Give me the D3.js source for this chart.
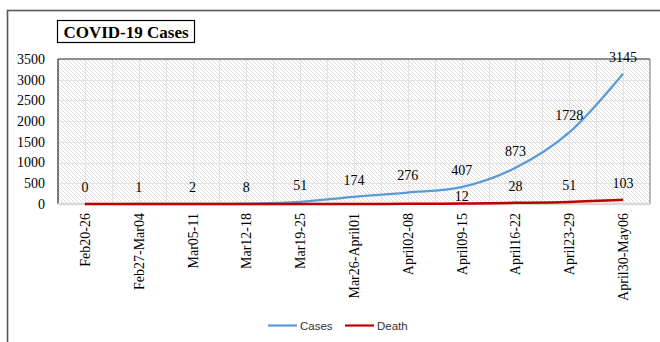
<!DOCTYPE html>
<html>
<head>
<meta charset="utf-8">
<script src="https://cdn.jsdelivr.net/npm/d3@7"></script>
<style>
  body { margin: 0; background: #fff; }
  svg { display: block; }
</style>
</head>
<body>
<svg id="chart" width="660" height="342"></svg>
<script>
// data
const weeks = ["Feb20-26", "Feb27-Mar04", "Mar05-11", "Mar12-18", "Mar19-25", "Mar26-April01",
               "April02-08", "April09-15", "April16-22", "April23-29", "April30-May06"];
const cases = [0, 1, 2, 8, 51, 174, 276, 407, 873, 1728, 3145];
const deaths = [0, 0, 0, 0, 0, 1, 4, 12, 28, 51, 103];
const deathLabelShown = [false, false, false, false, false, false, false, true, true, true, true];
const yTicks = [0, 500, 1000, 1500, 2000, 2500, 3000, 3500];

const svg = d3.select('#chart');
const serif = '"Liberation Serif", "Times New Roman", serif';
const sans = '"Liberation Sans", Arial, sans-serif';

const plotL = 58, plotT = 59, plotR = 650, plotB = 204;
const plotW = plotR - plotL, plotH = plotB - plotT;

const x = d3.scaleBand().domain(weeks).range([plotL, plotR]);
const y = d3.scaleLinear().domain([0, 3500]).range([plotB, plotT]);
const cx = d => x(d) + x.bandwidth() / 2;

// outer frame
svg.append('rect').attr('x', 7.5).attr('y', 10.5).attr('width', 700).attr('height', 400)
    .attr('fill', '#fff').attr('stroke', '#595959').attr('stroke-width', 1.6);

// hatch pattern
const defs = svg.append('defs');
const pat = defs.append('pattern').attr('id', 'hatch').attr('patternUnits', 'userSpaceOnUse')
    .attr('width', 4).attr('height', 4);
pat.append('rect').attr('width', 4).attr('height', 4).attr('fill', '#fff');
pat.append('path').attr('d', 'M-1,-1 L5,5 M-1,3 L1,5 M3,-1 L5,1')
    .attr('stroke', '#dcdcdc').attr('stroke-width', 1);

svg.append('rect').attr('x', plotL).attr('y', plotT).attr('width', plotW).attr('height', plotH)
    .attr('fill', 'url(#hatch)');

// gridlines: vertical every half band, horizontal at ticks
const grid = svg.append('g').attr('stroke', '#e3e3e3').attr('stroke-width', 1);
for (let i = 1; i < weeks.length * 2; i++) {
  const gx = Math.round(plotL + i * x.bandwidth() / 2) + 0.5;
  grid.append('line').attr('x1', gx).attr('x2', gx).attr('y1', plotT).attr('y2', plotB);
}
yTicks.slice(1, -1).forEach(t => {
  grid.append('line').attr('x1', plotL).attr('x2', plotR)
      .attr('y1', Math.round(y(t)) + 0.5).attr('y2', Math.round(y(t)) + 0.5);
});

// plot frame
svg.append('line').attr('x1', plotL).attr('x2', plotR).attr('y1', plotT).attr('y2', plotT)
    .attr('stroke', '#262626').attr('stroke-width', 1.2);
svg.append('line').attr('x1', plotL).attr('x2', plotL).attr('y1', plotT).attr('y2', plotB)
    .attr('stroke', '#262626').attr('stroke-width', 1.2);
svg.append('line').attr('x1', plotR).attr('x2', plotR).attr('y1', plotT).attr('y2', plotB)
    .attr('stroke', '#8c8c8c').attr('stroke-width', 1.2);
svg.append('line').attr('x1', plotL).attr('x2', plotR).attr('y1', plotB).attr('y2', plotB)
    .attr('stroke', '#d9d9d9').attr('stroke-width', 2.5);

// y axis labels
svg.append('g').selectAll('text').data(yTicks).enter().append('text')
    .attr('x', 45).attr('y', d => y(d)).attr('dy', '0.35em')
    .attr('text-anchor', 'end').attr('font-family', serif).attr('font-size', 14)
    .attr('fill', '#000').text(d => d);

// x axis labels (rotated)
svg.append('g').selectAll('text').data(weeks).enter().append('text')
    .attr('transform', d => `translate(${cx(d) + 5},213) rotate(-90)`)
    .attr('text-anchor', 'end').attr('font-family', serif).attr('font-size', 14)
    .attr('fill', '#000').text(d => d);

// lines
const line = d3.line().x((d, i) => cx(weeks[i])).y(d => y(d)).curve(d3.curveCardinal.tension(0));
svg.append('path').datum(cases).attr('d', line).attr('fill', 'none')
    .attr('stroke', '#5b9bd5').attr('stroke-width', 2.2);
svg.append('path').datum(deaths).attr('d', line).attr('fill', 'none')
    .attr('stroke', '#c00000').attr('stroke-width', 2.5);

// data labels
svg.append('g').selectAll('text').data(cases).enter().append('text')
    .attr('x', (d, i) => cx(weeks[i])).attr('y', d => y(d) - 17).attr('dy', '0.35em')
    .attr('text-anchor', 'middle').attr('font-family', serif).attr('font-size', 14)
    .attr('fill', '#000').text(d => d);
svg.append('g').selectAll('text').data(deaths.map((d, i) => [d, i]).filter(p => deathLabelShown[p[1]])).enter()
    .append('text')
    .attr('x', p => cx(weeks[p[1]])).attr('y', p => y(p[0]) - (p[0] < 20 ? 7 : 17)).attr('dy', '0.35em')
    .attr('text-anchor', 'middle').attr('font-family', serif).attr('font-size', 14)
    .attr('fill', '#000').text(p => p[0]);

// title box
svg.append('rect').attr('x', 57.5).attr('y', 20.5).attr('width', 137).attr('height', 22)
    .attr('fill', '#fff').attr('stroke', '#000').attr('stroke-width', 1.2);
svg.append('text').attr('x', 126).attr('y', 32).attr('dy', '0.35em')
    .attr('text-anchor', 'middle').attr('font-family', serif).attr('font-weight', 'bold')
    .attr('font-size', 17).attr('fill', '#000').text('COVID-19 Cases');

// legend
const legend = [{name: 'Cases', color: '#5b9bd5', x: 268}, {name: 'Death', color: '#c00000', x: 345}];
const lg = svg.append('g').selectAll('g').data(legend).enter().append('g');
lg.append('line').attr('x1', d => d.x).attr('x2', d => d.x + 29).attr('y1', 325.5).attr('y2', 325.5)
    .attr('stroke', d => d.color).attr('stroke-width', 2.2);
lg.append('text').attr('x', d => d.x + 32).attr('y', 326).attr('dy', '0.35em')
    .attr('font-family', sans).attr('font-size', 11.5).attr('fill', '#333').text(d => d.name);
</script>
</body>
</html>
